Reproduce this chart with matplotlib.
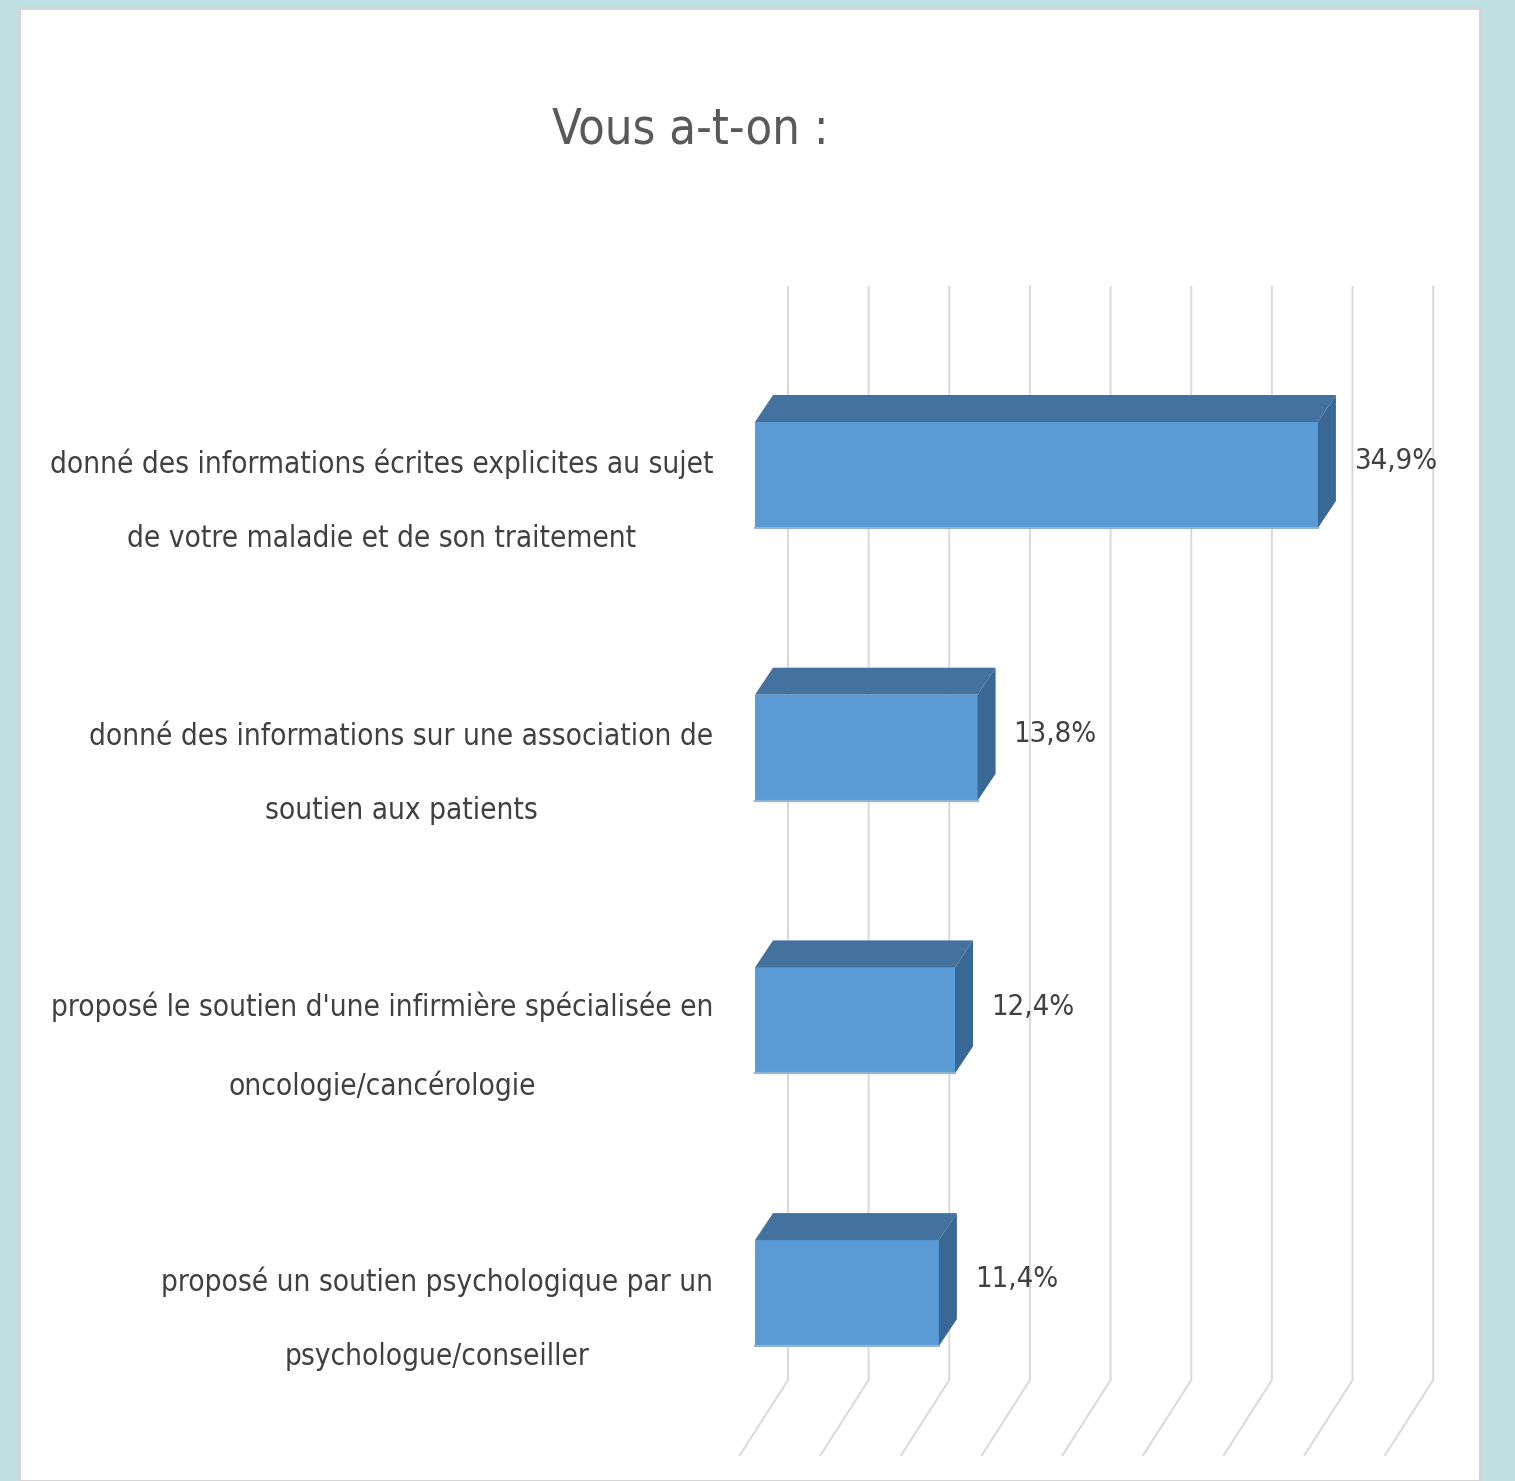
import matplotlib
matplotlib.use("Agg")
import matplotlib.pyplot as plt
from matplotlib.patches import Polygon, Rectangle

# données
categories = [
    "donné des informations écrites explicites au sujet\nde votre maladie et de son traitement",
    "donné des informations sur une association de\nsoutien aux patients",
    "proposé le soutien d'une infirmière spécialisée en\noncologie/cancérologie",
    "proposé un soutien psychologique par un\npsychologue/conseiller",
]
valeurs = [34.9, 13.8, 12.4, 11.4]
etiquettes = ["34,9%", "13,8%", "12,4%", "11,4%"]
graduations = [0, 5, 10, 15, 20, 25, 30, 35, 40]
titre = "Vous a-t-on :"

W, H = 1515, 1481
plt.rcParams["font.family"] = ["DejaVu Sans"]
plt.rcParams["font.stretch"] = "condensed"

fig = plt.figure(figsize=(W / 100, H / 100), dpi=100, facecolor="#bfe0e3")

# panneau blanc
panneau = Rectangle((19 / W, 0), (1480 - 19) / W, (H - 8) / H, transform=fig.transFigure,
                    facecolor="white", edgecolor="#d4d4d4", linewidth=2.2, zorder=-1)
fig.add_artist(panneau)

ax = fig.add_axes([0, 0, 1, 1])
ax.patch.set_visible(False)
ax.axis("off")

px_par_pct = 16.13   # échelle horizontale (px par %)
px_par_cat = 272.7   # espacement des barres (px)
ax.set_xlim(-755 / px_par_pct, (W - 755) / px_par_pct)
ax.set_ylim((H - 475) / px_par_cat, -475 / px_par_cat)

# profondeur 3D (en unités de données)
dx_barre, dy_barre = 18 / px_par_pct, -27 / px_par_cat
dx_mur = 33 / px_par_pct
haut_mur = (287 - 475) / px_par_cat
bas_mur = (1380 - 475) / px_par_cat
dx_sol, dy_sol = -48 / px_par_pct, 75 / px_par_cat
h = 106 / px_par_cat

# quadrillage (mur + sol)
for g in graduations:
    xm = g + dx_mur
    ax.plot([xm, xm, xm + dx_sol], [haut_mur, bas_mur, bas_mur + dy_sol],
            color="#d9d9d9", lw=1.4, zorder=1, solid_joinstyle="miter")

# barres 3D
for i, v in enumerate(valeurs):
    haut, bas = i - h / 2, i + h / 2
    face = Polygon([(0, haut), (v, haut), (v, bas), (0, bas)],
                   facecolor="#5b9bd5", edgecolor="none", zorder=3)
    dessus = Polygon([(0, haut), (v, haut), (v + dx_barre, haut + dy_barre), (dx_barre, haut + dy_barre)],
                     facecolor="#43729f", edgecolor="none", zorder=3)
    cote = Polygon([(v, haut), (v + dx_barre, haut + dy_barre), (v + dx_barre, bas + dy_barre), (v, bas)],
                   facecolor="#3a6895", edgecolor="none", zorder=3)
    for p in (face, dessus, cote):
        ax.add_patch(p)
    ax.plot([0, v], [bas, bas], color="#8fb3d9", lw=1.5, zorder=4)

    ax.text(v + dx_barre + 1.1, i - 0.05, etiquettes[i], ha="left", va="center",
            fontsize=21, color="#404040", zorder=5)
    ax.text(-2.6, i + 0.095, categories[i], ha="right", va="center", ma="center",
            fontsize=21.3, color="#404040", linespacing=2.95, zorder=5)

fig.text(690 / W, 1 - 130 / H, titre, ha="center", va="center", fontsize=35, color="#595959")

fig.savefig("out.png", dpi=100, facecolor=fig.get_facecolor())
